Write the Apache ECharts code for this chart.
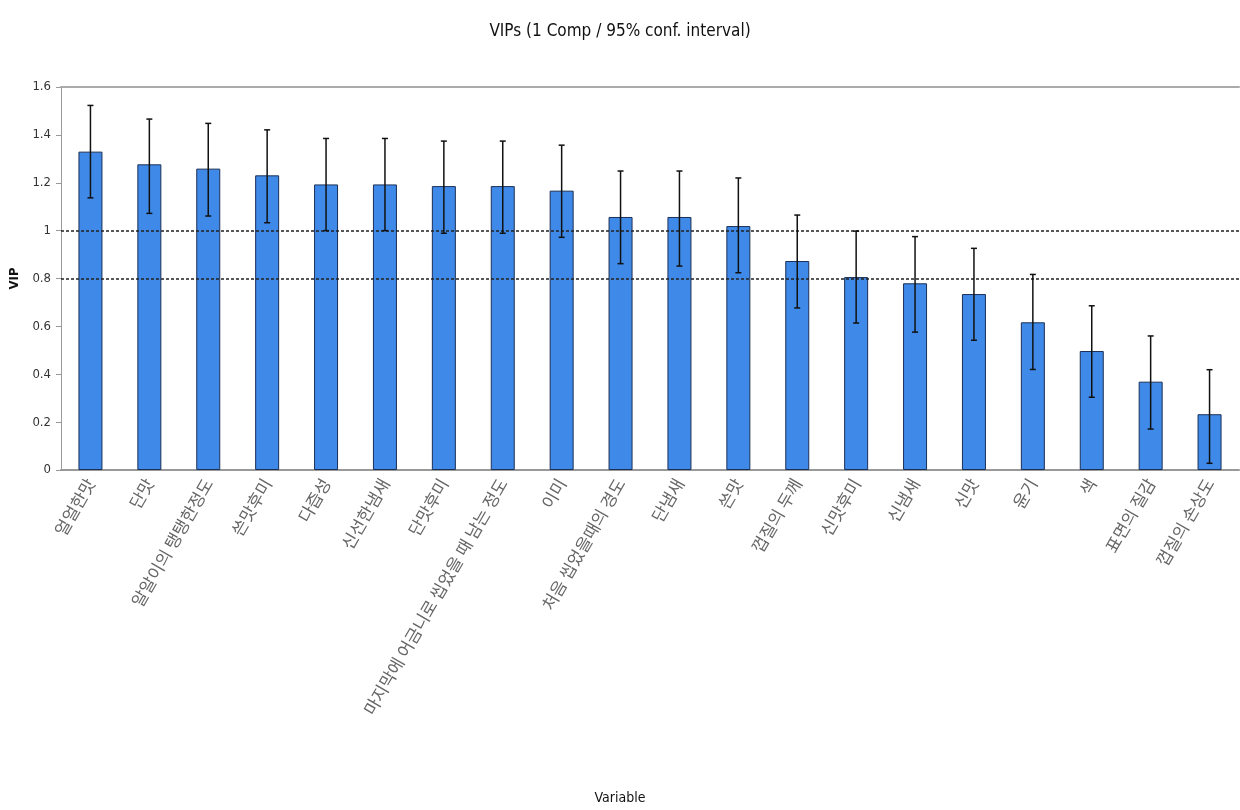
<!DOCTYPE html>
<html>
<head>
<meta charset="utf-8">
<script src="https://cdn.jsdelivr.net/npm/echarts@6/dist/echarts.min.js"></script>
<style>
  html, body { margin: 0; padding: 0; background: #fff; }
  #chart { width: 1240px; height: 810px; }
</style>
</head>
<body>
<div id="chart"></div>
<script>
// Sensory attributes, sorted by VIP
const variables = [
  '얼얼한맛', '단맛', '알알이의 탱탱한정도', '쓴맛후미', '다즙성',
  '신선한냄새', '단맛후미', '마지막에 어금니로 씹었을 때 남는 정도', '이미', '처음 씹었을때의 경도',
  '단냄새', '쓴맛', '껍질의 두께', '신맛후미', '신냄새',
  '신맛', '윤기', '색', '표면의 질감', '껍질의 손상도'
];
// VIP scores (1 component)
const vip = [
  1.33, 1.277, 1.259, 1.231, 1.193,
  1.193, 1.186, 1.186, 1.167, 1.057,
  1.057, 1.019, 0.873, 0.806, 0.780,
  0.735, 0.617, 0.497, 0.369, 0.233
];
// 95% confidence interval bounds
const ciLower = [
  1.137, 1.072, 1.061, 1.033, 1.000,
  1.000, 0.989, 0.989, 0.972, 0.862,
  0.852, 0.824, 0.677, 0.614, 0.576,
  0.542, 0.420, 0.304, 0.171, 0.028
];
const ciUpper = [
  1.523, 1.466, 1.448, 1.421, 1.385,
  1.385, 1.374, 1.374, 1.357, 1.249,
  1.249, 1.220, 1.065, 0.998, 0.975,
  0.926, 0.817, 0.686, 0.560, 0.419
];
// Reference thresholds
const thresholds = [1, 0.8];

const errorData = variables.map((v, i) => [i, ciLower[i], ciUpper[i]]);

const chart = echarts.init(document.getElementById('chart'));
const latinFont = '"DejaVu Sans Condensed", "Liberation Sans Narrow", sans-serif';
const krFont = '"Noto Sans CJK KR", sans-serif';

chart.setOption({
  animation: false,
  backgroundColor: '#ffffff',
  title: [
    {
      text: 'VIPs (1 Comp / 95% conf. interval)',
      left: 'center',
      top: 18,
      textStyle: { fontFamily: latinFont, fontSize: 17, fontWeight: 'normal', color: '#111' }
    },
    {
      text: 'Variable',
      left: 'center',
      top: 786,
      textStyle: { fontFamily: latinFont, fontSize: 14, fontWeight: 'normal', color: '#111' }
    }
  ],
  grid: { left: 56, right: 1, top: 87, bottom: 340 },
  xAxis: [
    {
      type: 'category',
      data: variables,
      axisLine: { lineStyle: { color: '#999', width: 2 } },
      axisTick: { show: false },
      axisLabel: {
        interval: 0,
        rotate: 60,
        margin: 10,
        fontFamily: krFont,
        fontSize: 17,
        color: '#666'
      }
    },
    {
      type: 'category',
      position: 'top',
      data: variables,
      axisLine: { lineStyle: { color: '#aaa', width: 2 } },
      axisTick: { show: false },
      axisLabel: { show: false }
    }
  ],
  yAxis: {
    type: 'value',
    min: 0,
    max: 1.6,
    interval: 0.2,
    name: 'VIP',
    nameLocation: 'middle',
    nameRotate: 90,
    nameGap: 40,
    nameTextStyle: { fontFamily: latinFont, fontSize: 13, fontWeight: 'bold', color: '#111' },
    axisLine: { show: true, lineStyle: { color: '#999', width: 1 } },
    axisTick: { show: true, length: 5, lineStyle: { color: '#999' } },
    splitLine: { show: false },
    axisLabel: {
      fontFamily: latinFont,
      fontSize: 13,
      color: '#333',
      margin: 10,
      formatter: v => String(Math.round(v * 10) / 10)
    }
  },
  series: [
    {
      type: 'bar',
      data: vip,
      barWidth: 24,
      itemStyle: { color: '#3f8ae8', borderColor: '#1b2f55', borderWidth: 1 },
      markLine: {
        silent: true,
        symbol: 'none',
        label: { show: false },
        lineStyle: { color: '#222', type: [3, 2], width: 1.5 },
        data: thresholds.map(t => ({ yAxis: t }))
      },
      z: 2
    },
    {
      type: 'custom',
      data: errorData,
      z: 5,
      renderItem: function (params, api) {
        const i = api.value(0);
        const lo = api.coord([i, api.value(1)]);
        const hi = api.coord([i, api.value(2)]);
        const cap = 3;
        const style = { stroke: '#111', lineWidth: 1.5 };
        return {
          type: 'group',
          children: [
            { type: 'line', shape: { x1: lo[0], y1: lo[1], x2: hi[0], y2: hi[1] }, style },
            { type: 'line', shape: { x1: hi[0] - cap, y1: hi[1], x2: hi[0] + cap, y2: hi[1] }, style },
            { type: 'line', shape: { x1: lo[0] - cap, y1: lo[1], x2: lo[0] + cap, y2: lo[1] }, style }
          ]
        };
      }
    }
  ]
});
</script>
</body>
</html>
